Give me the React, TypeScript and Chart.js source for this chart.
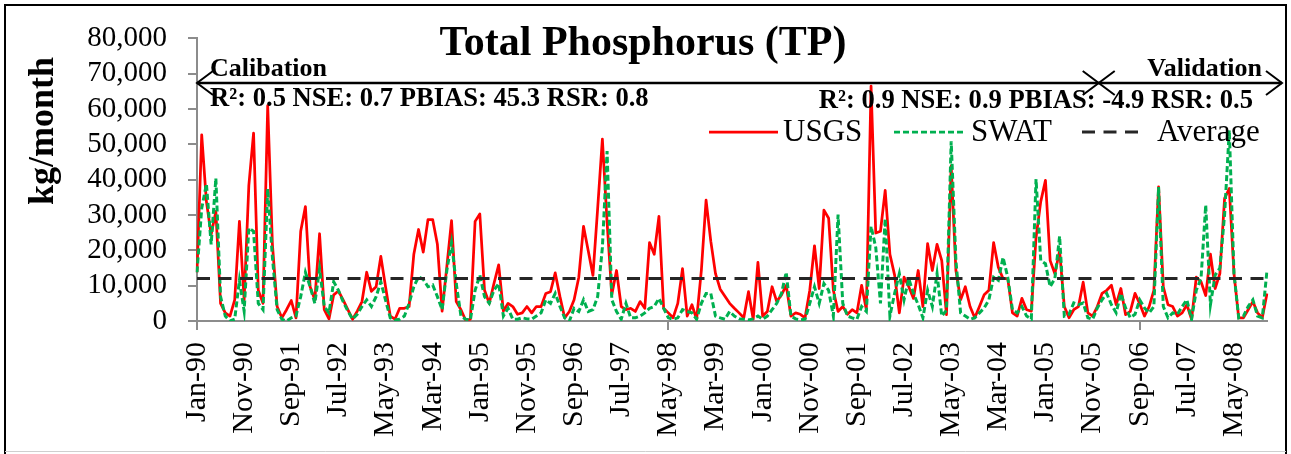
import React, { useEffect, useRef } from 'react';
import { Chart, registerables } from 'chart.js';

Chart.register(...registerables);

const MONTH_NAMES = ['Jan', 'Feb', 'Mar', 'Apr', 'May', 'Jun', 'Jul', 'Aug', 'Sep', 'Oct', 'Nov', 'Dec'];
const YEARS = ['90', '91', '92', '93', '94', '95', '96', '97', '98', '99', '00', '01', '02', '03', '04', '05', '06', '07', '08'];
const CATEGORIES = YEARS.flatMap((y) => MONTH_NAMES.map((m) => `${m}-${y}`));

const TICK_LABELS = [
  'Jan-90', 'Nov-90', 'Sep-91', 'Jul-92', 'May-93', 'Mar-94', 'Jan-95', 'Nov-95', 'Sep-96', 'Jul-97', 'May-98', 'Mar-99',
  'Jan-00', 'Nov-00', 'Sep-01', 'Jul-02', 'May-03', 'Mar-04', 'Jan-05', 'Nov-05', 'Sep-06', 'Jul-07', 'May-08',
];

// Observed monthly TP load (kg/month), Jan-90 .. Dec-08
const USGS = [
  13800, 52700, 33800, 24500, 31000, 5000, 2300, 1400, 6000, 28200, 6000, 38400,
  53200, 8700, 5000, 61000, 21700, 4100, 900, 3200, 5800, 900, 25400, 32400,
  9700, 6000, 24700, 3200, 600, 7400, 8500, 6000, 3200, 500, 2800, 5500,
  13800, 8400, 9700, 18300, 9700, 1400, 500, 3600, 3600, 4100, 18900, 25900,
  19500, 28700, 28700, 21700, 2800, 15400, 28400, 5500, 3200, 200, 500, 28200,
  30300, 8700, 5000, 10600, 15900, 2800, 5000, 4100, 1900, 2300, 4100, 2300,
  4100, 4100, 7800, 8300, 13600, 6900, 900, 2700, 6000, 12400, 26800, 19900,
  12900, 31900, 51500, 28000, 7400, 14300, 4100, 3200, 3600, 2700, 5500, 3600,
  22200, 18900, 29600, 3600, 2300, 900, 5000, 14800, 1400, 4600, 500, 14300,
  34200, 22600, 13400, 9000, 7000, 5000, 3600, 2300, 900, 8300, 500, 16600,
  1400, 2700, 9700, 5500, 7400, 10100, 1400, 2300, 1900, 900, 8700, 21300,
  9200, 31400, 29100, 8700, 2700, 4100, 1900, 3200, 2300, 10100, 3200, 66500,
  24900, 25400, 37000, 18900, 13000, 2300, 12400, 9700, 6400, 14300, 4100, 21900,
  14300, 21700, 17100, 1800, 43900, 14300, 6000, 9700, 4100, 900, 4100, 7400,
  8700, 22200, 15200, 12000, 12000, 2300, 1400, 6400, 3200, 2800, 23600, 33800,
  39800, 17100, 13400, 19900, 4100, 900, 3200, 4100, 11000, 2300, 1400, 4100,
  7800, 8700, 10100, 4600, 9200, 1800, 2700, 7800, 4900, 1400, 4100, 8700,
  38000, 9700, 4600, 4100, 1400, 2300, 4600, 500, 12400, 11100, 7200, 18900,
  9200, 13400, 34700, 37500, 13400, 900, 900, 3200, 5500, 2300, 900, 7800,
];

// Simulated monthly TP load (kg/month), Jan-90 .. Dec-08
const SWAT = [
  13800, 31900, 38800, 21700, 40400, 6900, 1400, 0, 500, 11500, 2800, 26300,
  25400, 5000, 3200, 37400, 18000, 3200, 500, 0, 900, 1400, 6900, 13800,
  9700, 5000, 14800, 4100, 2300, 11100, 8700, 5500, 2800, 500, 1900, 4100,
  6000, 4100, 6900, 11100, 5900, 900, 300, 500, 1400, 5000, 9700, 12500,
  11800, 9700, 10200, 6900, 3200, 14300, 22200, 10600, 1400, 500, 300, 8700,
  13000, 6900, 5000, 8700, 10600, 1400, 3600, 500, 500, 900, 600, 500,
  1400, 2300, 6000, 5000, 7800, 4100, 900, 0, 3600, 2700, 6000, 2700,
  3200, 6900, 20800, 48100, 6000, 2700, 500, 5000, 900, 900, 1400, 2300,
  3600, 4100, 6400, 3600, 900, 500, 900, 3200, 2700, 2300, 500, 5000,
  7800, 7800, 1400, 900, 500, 2700, 1400, 600, 500, 300, 600, 1400,
  500, 1400, 3200, 5000, 7800, 13800, 1400, 600, 300, 500, 5000, 9700,
  5000, 10600, 8700, 1400, 30100, 5000, 1400, 900, 500, 4100, 2700, 26800,
  20800, 5000, 29000, 1400, 7800, 13400, 6000, 12000, 7800, 4600, 900, 8700,
  4100, 13400, 1400, 3000, 50900, 17100, 2300, 1400, 500, 900, 2300, 3700,
  6000, 12400, 11500, 18000, 12400, 3200, 2300, 4100, 1400, 500, 40200, 17100,
  16200, 9700, 12000, 24000, 1400, 1900, 5100, 4600, 5100, 900, 500, 3700,
  6000, 7800, 4600, 2300, 7800, 3700, 900, 1900, 6000, 3700, 2300, 4100,
  37900, 4100, 900, 2300, 1900, 4100, 6000, 500, 8700, 12000, 32800, 4600,
  13000, 15000, 30000, 54000, 13400, 900, 1400, 4100, 6000, 1400, 900, 14300,
];

const AVERAGE = 12000;
const Y_MIN = 0;
const Y_MAX = 80000;
const Y_STEP = 10000;

const TITLE = 'Total Phosphorus (TP)';
const Y_TITLE = 'kg/month';
const CALIBRATION_LABEL = 'Calibation';
const VALIDATION_LABEL = 'Validation';
const CALIBRATION_STATS = 'R\u00B2: 0.5 NSE: 0.7 PBIAS: 45.3 RSR: 0.8';
const VALIDATION_STATS = 'R\u00B2: 0.9 NSE: 0.9 PBIAS: -4.9 RSR: 0.5';
const PERIOD_SPLIT_INDEX = 191.3;

const SERIF = '"Liberation Serif", "Times New Roman", serif';
const RED = '#FF0000';
const GREEN = '#00B050';
const DARK = '#262626';
const AXIS_GRAY = '#8C8C8C';

const annotationPlugin = {
  id: 'tpAnnotations',
  afterDraw(chart: any) {
    const { ctx, chartArea } = chart;
    const xs = chart.scales.x;
    ctx.save();

    // outer frame
    ctx.strokeStyle = '#000';
    ctx.lineWidth = 2;
    ctx.beginPath();
    ctx.moveTo(5, 454);
    ctx.lineTo(5, 5);
    ctx.lineTo(1286, 5);
    ctx.lineTo(1286, 454);
    ctx.stroke();
    ctx.strokeStyle = '#cfcfcf';
    ctx.lineWidth = 1;
    ctx.beginPath();
    ctx.moveTo(5, 451.5);
    ctx.lineTo(1286, 451.5);
    ctx.stroke();

    ctx.fillStyle = '#000';
    ctx.textBaseline = 'alphabetic';

    // title
    ctx.font = `bold 42px ${SERIF}`;
    ctx.textAlign = 'center';
    ctx.fillText(TITLE, 643, 55);

    // y axis title
    ctx.save();
    ctx.translate(53, 131);
    ctx.rotate(-Math.PI / 2);
    ctx.font = `bold 36px ${SERIF}`;
    ctx.textAlign = 'center';
    ctx.fillText(Y_TITLE, 0, 0);
    ctx.restore();

    // period arrows
    const yA = 83;
    const p0 = xs.getPixelForValue(0);
    const pN = xs.getPixelForValue(CATEGORIES.length - 1);
    const xStart = chartArea.left;
    const xSplit = p0 + (PERIOD_SPLIT_INDEX * (pN - p0)) / (CATEGORIES.length - 1);
    const xEnd = chartArea.right + 15;
    ctx.strokeStyle = '#000';
    ctx.lineWidth = 2.5;
    ctx.beginPath();
    ctx.moveTo(xStart, yA);
    ctx.lineTo(xEnd, yA);
    ctx.stroke();
    const head = (x: number, dir: number) => {
      ctx.beginPath();
      ctx.moveTo(x - dir * 16, yA - 12);
      ctx.lineTo(x, yA);
      ctx.lineTo(x - dir * 16, yA + 12);
      ctx.stroke();
    };
    ctx.lineWidth = 2;
    head(xStart, -1);
    head(xSplit, 1);
    head(xSplit, -1);
    head(xEnd, 1);

    ctx.font = `bold 26px ${SERIF}`;
    ctx.textAlign = 'left';
    ctx.fillText(CALIBRATION_LABEL, 210, 76);
    ctx.textAlign = 'right';
    ctx.fillText(VALIDATION_LABEL, 1262, 76);
    ctx.font = `bold 26.6px ${SERIF}`;
    ctx.textAlign = 'left';
    ctx.fillText(CALIBRATION_STATS, 210, 106);
    ctx.textAlign = 'right';
    ctx.fillText(VALIDATION_STATS, 1253, 108);

    // legend
    const yL = 132;
    ctx.font = `31px ${SERIF}`;
    ctx.textAlign = 'left';
    ctx.textBaseline = 'middle';
    const legendItem = (x1: number, x2: number, color: string, dash: number[], width: number, label: string, tx: number) => {
      ctx.strokeStyle = color;
      ctx.lineWidth = width;
      ctx.setLineDash(dash);
      ctx.beginPath();
      ctx.moveTo(x1, yL);
      ctx.lineTo(x2, yL);
      ctx.stroke();
      ctx.setLineDash([]);
      ctx.fillStyle = '#000';
      ctx.fillText(label, tx, yL + 1);
    };
    legendItem(709, 778, RED, [], 2.75, 'USGS', 783);
    legendItem(894, 963, GREEN, [6, 3], 2.75, 'SWAT', 971);
    legendItem(1082, 1138, DARK, [13, 8.5], 3, 'Average', 1157);

    ctx.restore();
  },
};

export default function App() {
  const canvasRef = useRef<HTMLCanvasElement | null>(null);

  useEffect(() => {
    const canvas = canvasRef.current;
    if (!canvas) return;
    const isLabeled = (i: number) => TICK_LABELS.includes(CATEGORIES[i]);
    const chart = new Chart(canvas, {
      type: 'line',
      data: {
        labels: CATEGORIES,
        datasets: [
          {
            label: 'Average',
            data: [
              { x: CATEGORIES[0], y: AVERAGE },
              { x: CATEGORIES[CATEGORIES.length - 1], y: AVERAGE },
            ],
            borderColor: DARK,
            borderWidth: 3,
            borderDash: [13, 8.5],
            pointRadius: 0,
            order: 0,
          },
          {
            label: 'SWAT',
            data: SWAT,
            borderColor: GREEN,
            borderWidth: 3,
            borderDash: [6, 3],
            pointRadius: 0,
            tension: 0,
            order: 1,
          },
          {
            label: 'USGS',
            data: USGS,
            borderColor: RED,
            borderWidth: 2.75,
            borderJoinStyle: 'round',
            pointRadius: 0,
            tension: 0,
            order: 2,
          },
        ],
      } as any,
      options: {
        responsive: false,
        animation: false,
        devicePixelRatio: 1,
        layout: { padding: { top: 34, right: 24, left: 0, bottom: 0 } },
        plugins: {
          legend: { display: false },
          tooltip: { enabled: false },
          title: { display: false },
        },
        elements: { point: { radius: 0 } },
        scales: {
          x: {
            type: 'category',
            offset: false,
            border: { display: true, color: AXIS_GRAY, width: 2 },
            grid: {
              drawOnChartArea: false,
              drawTicks: true,
              tickLength: 9,
              lineWidth: 2,
              color: (c: any) => (isLabeled(c.index) ? AXIS_GRAY : 'rgba(0,0,0,0)'),
              tickColor: (c: any) => (isLabeled(c.index) ? AXIS_GRAY : 'rgba(0,0,0,0)'),
            },
            ticks: {
              autoSkip: false,
              maxRotation: 90,
              minRotation: 90,
              padding: 12,
              color: '#000',
              font: { family: SERIF, size: 30 },
              callback: (_v: any, i: number) => (isLabeled(i) ? CATEGORIES[i] : null),
            },
            afterFit: (s: any) => {
              s.height = 133;
            },
          },
          y: {
            min: Y_MIN,
            max: Y_MAX,
            border: { display: true, color: AXIS_GRAY, width: 2 },
            grid: {
              drawOnChartArea: false,
              drawTicks: true,
              tickLength: 9,
              lineWidth: 2,
              color: AXIS_GRAY,
              tickColor: AXIS_GRAY,
            },
            ticks: {
              stepSize: Y_STEP,
              autoSkip: false,
              padding: 21,
              color: '#000',
              font: { family: SERIF, size: 29 },
              callback: (v: any) => Number(v).toLocaleString('en-US'),
            },
            afterFit: (s: any) => {
              s.width = 197;
            },
          },
        },
      } as any,
      plugins: [annotationPlugin],
    });
    return () => chart.destroy();
  }, []);

  return (
    <div style={{ position: 'absolute', left: 0, top: 0, width: 1291, height: 454, background: '#fff' }}>
      <canvas ref={canvasRef} width={1291} height={454} style={{ display: 'block', width: 1291, height: 454 }} />
    </div>
  );
}
